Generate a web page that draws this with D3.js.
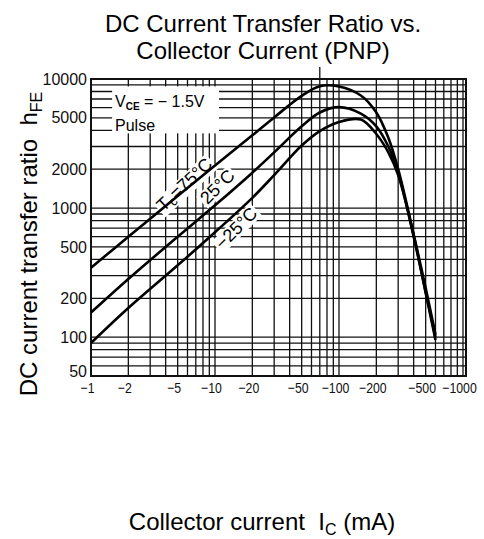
<!DOCTYPE html>
<html>
<head>
<meta charset="utf-8">
<script src="https://cdn.jsdelivr.net/npm/d3@7"></script>
<style>
  body { margin: 0; background: #fff; }
  svg { font-family: "Liberation Sans", Arial, sans-serif; }
  text { white-space: pre; }
</style>
</head>
<body>
<div id="chart-area"></div>
<script>
// collector current (mA, magnitude) where the curves were read
const icVals = [1, 2, 5, 10, 20, 30, 50, 70, 100, 150, 200, 250, 300, 400, 500, 600]
// hFE for each case temperature
const hfe75  = [345, 600, 1240, 2140, 3660, 5040, 7400, 8800, 8750, 7450, 5500, 3500, 2000, 620, 220, 95]
const hfe25  = [155, 282, 600, 1050, 1880, 2700, 4300, 5500, 6050, 5400, 4300, 3000, 1900, 600, 225, 100]
const hfeM25 = [90, 168, 360, 650, 1200, 1800, 3050, 3950, 4650, 4850, 3750, 2700, 1800, 620, 240, 105]

const xTicks = [1, 2, 5, 10, 20, 50, 100, 200, 500, 1000]
const yTicks = [50, 100, 200, 500, 1000, 2000, 5000, 10000]

const svg = d3.select("#chart-area").append("svg")
  .attr("width", 484)
  .attr("height", 539)

const x = d3.scaleLog().domain([1, 1000]).range([91, 463])
const y = d3.scaleLog().domain([50, 10000]).range([376, 79])
const RIGHT = 466

// grid
const grid = svg.append("g").attr("stroke", "#111").attr("stroke-width", 1.3)
grid.selectAll(".vg").data(x.ticks()).enter().append("line")
  .attr("x1", d => x(d)).attr("x2", d => x(d))
  .attr("y1", y(10000)).attr("y2", y(50))
grid.selectAll(".hg").data(y.ticks()).enter().append("line")
  .attr("x1", x(1)).attr("x2", RIGHT)
  .attr("y1", d => y(d)).attr("y2", d => y(d))

// blank box behind the conditions text
svg.append("rect")
  .attr("x", x(1.48)).attr("y", y(9000) + 1.5)
  .attr("width", x(10) + 4 - x(1.48))
  .attr("height", y(4000) + 3 - y(9000) - 1.5)
  .attr("fill", "#fff")

// frame
svg.append("rect")
  .attr("x", x(1)).attr("y", y(10000))
  .attr("width", RIGHT - x(1)).attr("height", y(50) - y(10000))
  .attr("fill", "none").attr("stroke", "#111").attr("stroke-width", 2)
svg.append("line")
  .attr("x1", x(70)).attr("x2", x(70))
  .attr("y1", y(10000) - 12).attr("y2", y(10000))
  .attr("stroke", "#111").attr("stroke-width", 1.3)

// curve labels (drawn with white backing over the grid)
const labels = [
  { t: "75°C", pre: "T", sub: "c", eq: "=", ic: 3.85, h: 930, angle: -43 },
  { t: "25°C", ic: 8.7, h: 1050, angle: -45 },
  { t: "−25°C", ic: 11.5, h: 470, angle: -45 }
]
labels.forEach(l => {
  const g = svg.append("g")
    .attr("transform", `translate(${x(l.ic)},${y(l.h)}) rotate(${l.angle})`)
  const txt = g.append("text").attr("font-size", 18)
  if (l.pre) {
    txt.append("tspan").text(l.pre)
    txt.append("tspan").attr("font-size", 13).attr("dy", 3).text(l.sub)
    txt.append("tspan").attr("dy", -3).text(l.eq + l.t)
  } else {
    txt.text(l.t)
  }
  const bb = txt.node().getBBox()
  g.insert("rect", "text")
    .attr("x", bb.x - 2).attr("y", bb.y + 2)
    .attr("width", bb.width + 4).attr("height", bb.height - 3)
    .attr("fill", "#fff")
})

// curves
const line = d3.line()
  .x((d, i) => x(icVals[i]))
  .y(d => y(d))
  .curve(d3.curveCatmullRom.alpha(0.5))
;[hfe75, hfe25, hfeM25].forEach(s => {
  svg.append("path")
    .datum(s)
    .attr("fill", "none")
    .attr("stroke", "#000")
    .attr("stroke-width", 2.6)
    .attr("d", line)
})

// conditions text
const cond = svg.append("text")
  .attr("x", 115).attr("y", 106.5)
  .attr("font-size", 16)
cond.append("tspan").text("V")
cond.append("tspan").attr("font-size", 10).attr("font-weight", "bold").attr("dy", 3).text("CE")
cond.append("tspan").attr("dy", -3).text(" = − 1.5V")
svg.append("text")
  .attr("x", 115).attr("y", 131)
  .attr("font-size", 16)
  .text("Pulse")

// axes labels
const xAxis = d3.axisBottom(x)
  .tickValues(xTicks)
  .tickSize(0)
  .tickPadding(6)
  .tickFormat(d => "−" + d)
svg.append("g")
  .attr("transform", `translate(0, ${y(50)})`)
  .call(xAxis)
  .call(g => g.select(".domain").remove())
  .selectAll("text")
  .attr("font-size", 15)
  .attr("font-family", "Liberation Sans, Arial, sans-serif")
  .attr("fill", "#111")
  .attr("transform", "translate(-4,0) scale(0.82,1)")

const yAxis = d3.axisLeft(y)
  .tickValues(yTicks)
  .tickSize(0)
  .tickPadding(4)
  .tickFormat(d3.format("d"))
svg.append("g")
  .attr("transform", `translate(${x(1)}, 0)`)
  .call(yAxis)
  .call(g => g.select(".domain").remove())
  .selectAll("text")
  .attr("font-size", 16)
  .attr("font-family", "Liberation Sans, Arial, sans-serif")
  .attr("fill", "#111")
  .attr("y", d => d === 50 ? -5 : 0)

// titles
svg.append("text")
  .attr("x", 263).attr("y", 32)
  .attr("text-anchor", "middle").attr("font-size", 24)
  .text("DC Current Transfer Ratio vs.")
svg.append("text")
  .attr("x", 263).attr("y", 58.5)
  .attr("text-anchor", "middle").attr("font-size", 24)
  .text("Collector Current (PNP)")

const yLabel = svg.append("text")
  .attr("transform", "translate(37, 244) rotate(-90)")
  .attr("text-anchor", "middle").attr("font-size", 24)
yLabel.append("tspan").text("DC current transfer ratio  h")
yLabel.append("tspan").attr("font-size", 16).attr("dy", 5).text("FE")

const xLabel = svg.append("text")
  .attr("x", 262).attr("y", 530)
  .attr("text-anchor", "middle").attr("font-size", 24)
xLabel.append("tspan").text("Collector current  I")
xLabel.append("tspan").attr("font-size", 16).attr("dy", 5).text("C")
xLabel.append("tspan").attr("dy", -5).text(" (mA)")
</script>
</body>
</html>
